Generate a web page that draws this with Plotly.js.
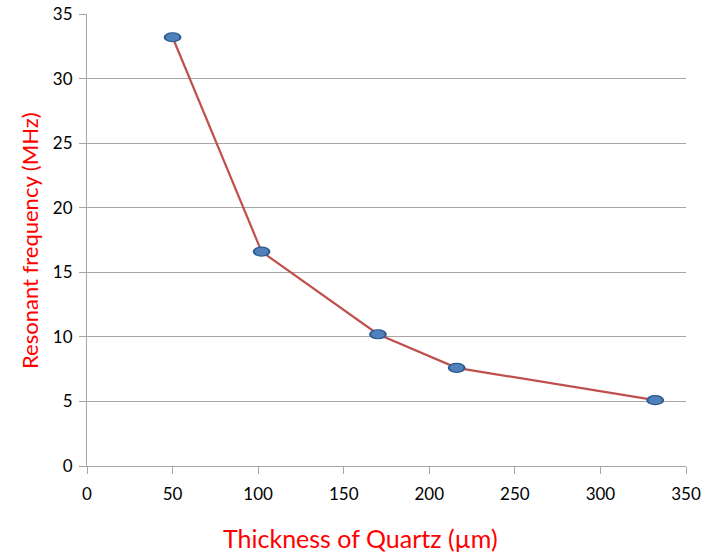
<!DOCTYPE html>
<html>
<head>
<meta charset="utf-8">
<script src="https://cdn.plot.ly/plotly-3.0.1.min.js"></script>
<style>html,body{margin:0;padding:0;background:#fff;}#chart{width:706px;height:556px;}</style>
</head>
<body>
<div id="chart"></div>
<script>
const thickness = [50, 102, 170, 216, 332];
const frequency = [33.2, 16.6, 10.2, 7.6, 5.1];
const xTicks = [0, 50, 100, 150, 200, 250, 300, 350];
const yTicks = [0, 5, 10, 15, 20, 25, 30, 35];
const xTitle = 'Thickness of Quartz (µm)';
const yTitle = 'Resonant frequency (MHz)';

const trace = {
  x: thickness, y: frequency, type: 'scatter', mode: 'lines+markers',
  line: {color: '#C0504D', width: 2.2},
  marker: {symbol: 'circle', size: 9, color: '#4F81BD', line: {color: '#2C5A8C', width: 1.2}},
  hoverinfo: 'none', showlegend: false
};
const fam = 'Lato, "Open Sans", sans-serif';
const font = {family: fam, size: 17, color: '#000'};
const xTitleFont = {family: fam, size: 25, color: '#FF0000'};
const yTitleFont = {family: fam, size: 22, color: '#FF0000'};
const layout = {
  width: 706, height: 556,
  margin: {l: 87, r: 20, t: 14, b: 90},
  paper_bgcolor: '#fff', plot_bgcolor: '#fff',
  font: font,
  xaxis: {
    range: [0, 350], tickvals: xTicks, ticktext: xTicks.map(String),
    showgrid: false, zeroline: false, showline: true, linecolor: '#A6A6A6', linewidth: 1,
    ticks: 'outside', ticklen: 7, tickcolor: '#A6A6A6', tickfont: font, ticklabelstandoff: 6
  },
  yaxis: {
    range: [0, 35], tickvals: yTicks, ticktext: yTicks.map(String),
    showgrid: true, gridcolor: '#A6A6A6', gridwidth: 1, zeroline: false,
    showline: true, linecolor: '#A6A6A6', linewidth: 1,
    ticks: 'outside', ticklen: 7, tickcolor: '#A6A6A6', tickfont: font, ticklabelstandoff: 3
  },
  annotations: [
    {text: xTitle, xref: 'paper', yref: 'paper', x: 0.456, y: -0.159, xanchor: 'center', yanchor: 'middle', showarrow: false, font: xTitleFont},
    {text: yTitle, xref: 'paper', yref: 'paper', x: -0.095, y: 0.498, xanchor: 'center', yanchor: 'middle', showarrow: false, textangle: -90, font: yTitleFont}
  ]
};
function stretchMarkers(){
  document.querySelectorAll('#chart .scatterlayer .points path.point').forEach(p => {
    const t = p.getAttribute('transform') || '';
    if (t.indexOf('scale') < 0) p.setAttribute('transform', t + ' scale(1.75,1)');
  });
}
Plotly.newPlot('chart', [trace], layout, {staticPlot: true}).then(stretchMarkers);
</script>
</body>
</html>
